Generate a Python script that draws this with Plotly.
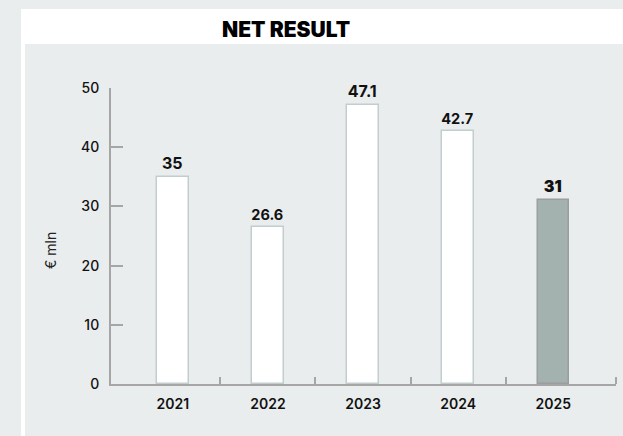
import plotly.graph_objects as go

# Net result per year (€ mln)
years = ["2021", "2022", "2023", "2024", "2025"]
net_result = [35, 26.6, 47.1, 42.7, 31]
labels = ["35", "26.6", "47.1", "42.7", "31"]
fill_colors = ["#ffffff", "#ffffff", "#ffffff", "#ffffff", "#a3b1af"]
line_colors = ["#c4cdcd", "#c4cdcd", "#c4cdcd", "#c4cdcd", "#9c9e9e"]
label_weights = [700, 700, 700, 700, 900]

W, H = 623, 436
L, R, T, B = 111, 7, 88, 52
pw, ph = W - L - R, H - T - B

def px_x(x):
    return (x - L) / pw

def px_y(y):
    return (H - B - y) / ph

BG = "#e9edee"
AXIS = "#a6a6a6"
FONT = "Inter"

xpos = list(range(len(years)))

fig = go.Figure()
fig.add_trace(go.Bar(
    x=xpos,
    y=net_result,
    width=0.33,
    marker=dict(color=fill_colors, line=dict(color=line_colors, width=1.5)),
    text=labels,
    textposition="outside",
    textfont=dict(family=FONT, size=16, color="#111111", weight=label_weights),
    cliponaxis=False,
    hoverinfo="skip",
))

fig.update_layout(
    width=W, height=H,
    margin=dict(l=L, r=R, t=T, b=B, pad=0),
    paper_bgcolor=BG,
    plot_bgcolor=BG,
    showlegend=False,
    bargap=0,
    shapes=[
        # white title band
        dict(type="rect", xref="paper", yref="paper", layer="below",
             x0=px_x(21), x1=px_x(W + 5), y0=px_y(44), y1=px_y(9),
             fillcolor="#ffffff", line=dict(width=0)),
        # white left rule
        dict(type="rect", xref="paper", yref="paper", layer="below",
             x0=px_x(21), x1=px_x(25), y0=px_y(H + 5), y1=px_y(44),
             fillcolor="#ffffff", line=dict(width=0)),
    ],
    annotations=[
        dict(text="NET RESULT", xref="paper", yref="paper",
             x=px_x(286), y=px_y(30), xanchor="center", yanchor="middle",
             showarrow=False,
             font=dict(family=FONT, size=21, color="#000000", weight=900)),
        dict(text="€ mln", xref="paper", yref="paper",
             x=px_x(50), y=px_y(251), xanchor="center", yanchor="middle",
             textangle=-90, showarrow=False,
             font=dict(family=FONT, size=14, color="#222222")),
    ],
)

fig.update_xaxes(
    range=[-0.65, 4.66],
    tickmode="array", tickvals=xpos, ticktext=years,
    ticks="", showgrid=False, zeroline=False,
    showline=True, linecolor=AXIS, linewidth=2,
    tickfont=dict(family=FONT, size=14, color="#111111", weight=600),
    ticklabelstandoff=6,
    minor=dict(tickmode="array", tickvals=[0.5, 1.5, 2.5, 3.5, 4.66],
               ticks="inside", ticklen=7, tickwidth=2, tickcolor=AXIS,
               showgrid=False),
    fixedrange=True,
)

fig.update_yaxes(
    range=[0, 50],
    tickmode="array", tickvals=[0, 10, 20, 30, 40, 50],
    ticks="inside", ticklen=12, tickwidth=2, tickcolor=AXIS,
    showgrid=False, zeroline=False,
    showline=True, linecolor=AXIS, linewidth=2,
    tickfont=dict(family=FONT, size=14, color="#111111", weight=500),
    ticklabelstandoff=7,
    fixedrange=True,
)

fig.write_html("out.html", config={"displayModeBar": False})
